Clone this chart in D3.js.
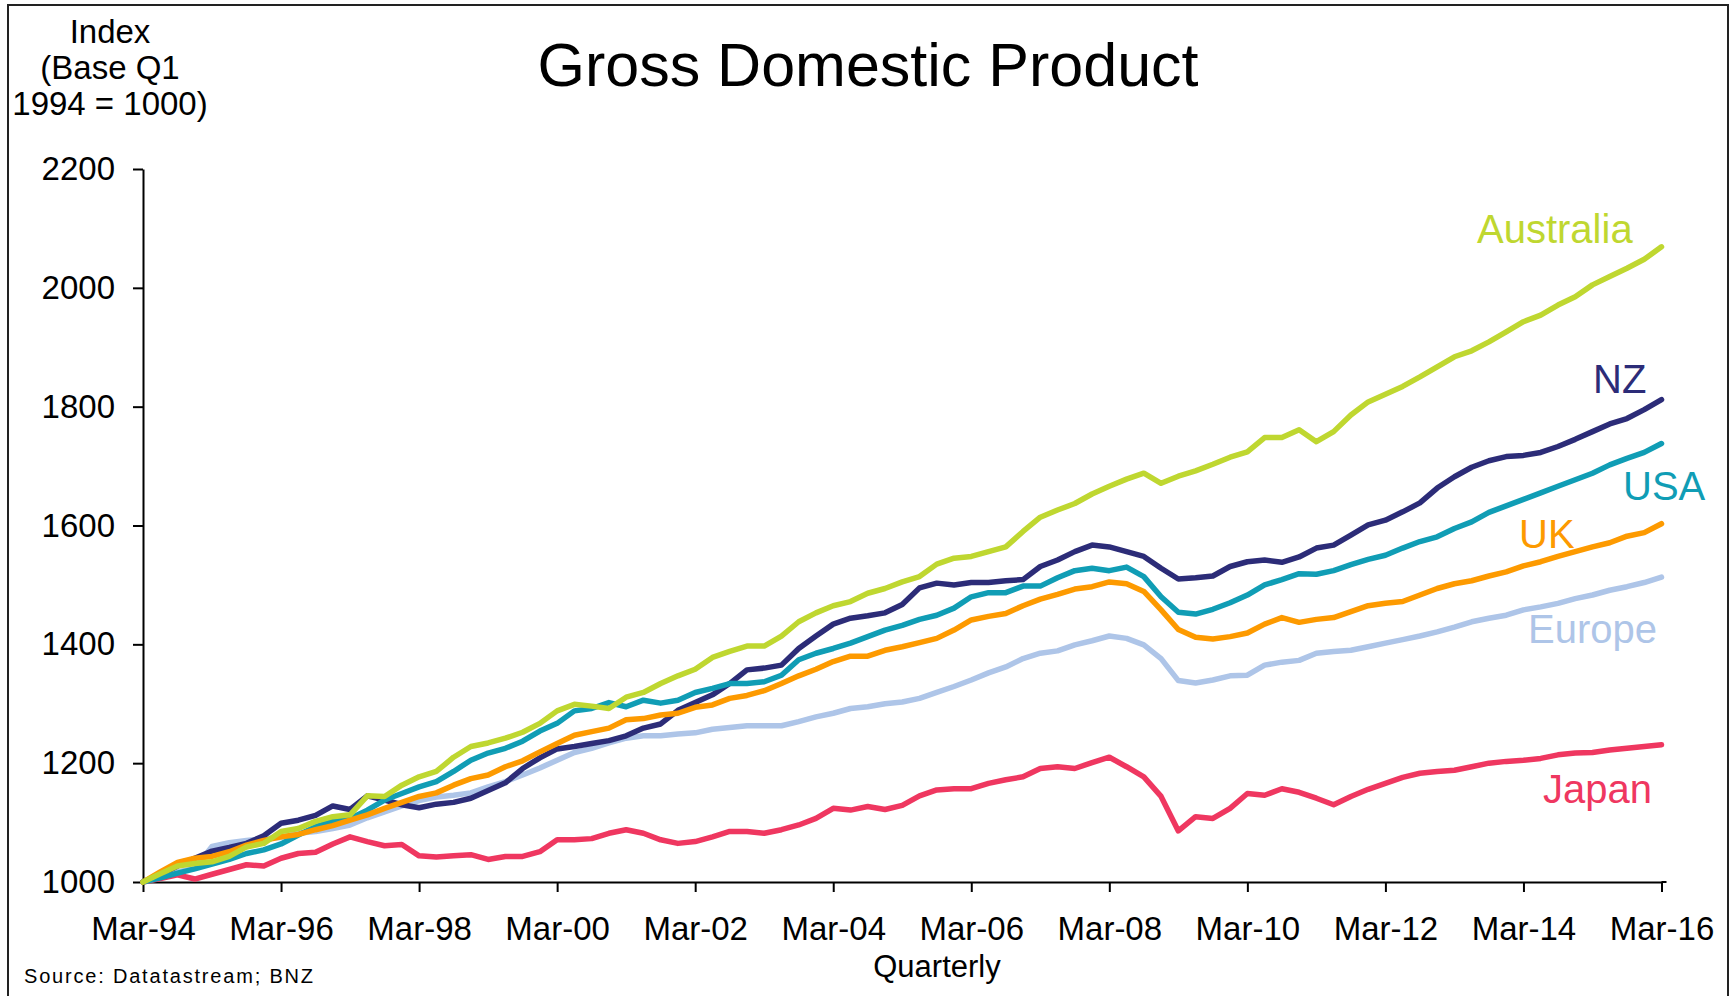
<!DOCTYPE html>
<html>
<head>
<meta charset="utf-8">
<script src="https://cdn.jsdelivr.net/npm/d3@7"></script>
<style>
  body { margin: 0; background: #fff; }
  svg { display: block; font-family: "Liberation Sans", Arial, sans-serif; }
  .axis path, .axis line { stroke: #000; stroke-width: 2; }
  .axis text { fill: #000; }
</style>
</head>
<body>
<div id="chart"></div>
<script>
// Quarterly index, Q1 1994 = 1000 (Mar-94 .. Mar-16)
var tickLabels = ["Mar-94", "Mar-96", "Mar-98", "Mar-00", "Mar-02", "Mar-04",
                  "Mar-06", "Mar-08", "Mar-10", "Mar-12", "Mar-14", "Mar-16"];
var yTicks = [1000, 1200, 1400, 1600, 1800, 2000, 2200];

var australia = [1000, 1014, 1027, 1031, 1034, 1043, 1059, 1065, 1085, 1090, 1102, 1110, 1113, 1145, 1144, 1163,
  1177, 1186, 1210, 1228, 1234, 1242, 1252, 1267, 1288, 1299, 1296, 1292, 1311, 1319, 1334, 1347,
  1358, 1378, 1388, 1397, 1397, 1414, 1438, 1453, 1465, 1472, 1486, 1494, 1505, 1514, 1535, 1545,
  1548, 1556, 1564, 1590, 1614, 1626, 1637, 1653, 1666, 1678, 1688, 1671, 1683, 1692, 1703, 1715,
  1724, 1748, 1748, 1761, 1741, 1758, 1786, 1808, 1821, 1834, 1850, 1867, 1884, 1894, 1909, 1926,
  1943, 1954, 1971, 1985, 2005, 2019, 2033, 2048, 2069];
var nz = [1000, 1012, 1027, 1040, 1052, 1058, 1065, 1078, 1099, 1104, 1112, 1128, 1122, 1145, 1138, 1130,
  1125, 1131, 1134, 1141, 1154, 1167, 1191, 1209, 1224, 1228, 1233, 1238, 1246, 1259, 1266, 1289,
  1302, 1315, 1334, 1357, 1360, 1365, 1393, 1414, 1434, 1444, 1448, 1453, 1467, 1495, 1503, 1500,
  1504, 1504, 1507, 1509, 1531, 1542, 1556, 1567, 1564, 1556, 1548, 1528, 1510, 1512, 1515, 1531,
  1539, 1542, 1538, 1547, 1562, 1567, 1584, 1601, 1609, 1623, 1638, 1663, 1682, 1698, 1709, 1716,
  1718, 1723, 1733, 1745, 1758, 1771, 1780, 1795, 1812];
var usa = [1000, 1007, 1015, 1022, 1030, 1038, 1048, 1054, 1064, 1079, 1093, 1102, 1107, 1121, 1138, 1149,
  1160, 1169, 1186, 1205, 1217, 1225, 1237, 1254, 1267, 1288, 1292, 1302, 1295, 1306, 1301, 1306,
  1319, 1326, 1334, 1334, 1337, 1348, 1374, 1385, 1393, 1402, 1413, 1424, 1432, 1442, 1449, 1461,
  1480, 1487, 1487, 1498, 1498, 1512, 1524, 1528, 1524, 1530, 1514, 1480, 1454, 1451, 1459, 1470,
  1483, 1500, 1509, 1519, 1518, 1524, 1534, 1543, 1550, 1562, 1573, 1581, 1595, 1606, 1622, 1633,
  1644, 1655, 1666, 1677, 1688, 1702, 1713, 1723, 1738];
var uk = [1000, 1017, 1033, 1040, 1043, 1051, 1062, 1070, 1076, 1080, 1088, 1095, 1104, 1113, 1124, 1134,
  1144, 1150, 1163, 1174, 1180, 1194, 1204, 1219, 1233, 1247, 1253, 1259, 1273, 1275, 1281, 1284,
  1294, 1298, 1309, 1314, 1322, 1334, 1347, 1358, 1371, 1380, 1380, 1390, 1396, 1403, 1410, 1424,
  1441, 1447, 1452, 1465, 1476, 1484, 1493, 1497, 1505, 1502, 1489, 1458, 1425, 1412, 1409, 1413,
  1419, 1434, 1445, 1437, 1442, 1445, 1455, 1465, 1469, 1472, 1483, 1494, 1502, 1507, 1515, 1522,
  1532, 1539, 1548, 1556, 1564, 1571, 1582, 1588, 1603];
var europe = [1000, 1010, 1017, 1023, 1060, 1066, 1070, 1073, 1075, 1082, 1085, 1090, 1096, 1108, 1118, 1128,
  1137, 1143, 1146, 1150, 1160, 1169, 1180, 1192, 1205, 1218, 1225, 1234, 1242, 1246, 1246, 1249,
  1251, 1257, 1260, 1263, 1263, 1263, 1270, 1278, 1284, 1292, 1295, 1300, 1303, 1309, 1319, 1329,
  1340, 1352, 1362, 1376, 1385, 1389, 1399, 1406, 1414, 1410, 1399, 1376, 1339, 1335, 1340, 1347,
  1348, 1365, 1370, 1373, 1385, 1388, 1390, 1396, 1402, 1408, 1414, 1421, 1429, 1438, 1444, 1449,
  1458, 1463, 1469, 1477, 1483, 1491, 1497, 1504, 1513];
var japan = [1000, 1006, 1012, 1005, 1013, 1021, 1029, 1027, 1040, 1048, 1050, 1064, 1076, 1068, 1061, 1063,
  1044, 1042, 1044, 1046, 1038, 1043, 1043, 1051, 1071, 1071, 1073, 1082, 1088, 1082, 1071, 1065,
  1068, 1076, 1085, 1085, 1082, 1088, 1096, 1107, 1124, 1121, 1127, 1122, 1129, 1145, 1155, 1157,
  1157, 1166, 1172, 1177, 1191, 1194, 1191, 1201, 1210, 1194, 1177, 1144, 1086, 1110, 1107, 1124,
  1149, 1146, 1157, 1151, 1141, 1130, 1144, 1156, 1166, 1176, 1183, 1186, 1188, 1194, 1200, 1203,
  1205, 1208, 1214, 1217, 1218, 1222, 1225, 1228, 1231];

// draw order: back to front
var series = [
  { name: "Japan",     values: japan,     color: "#ef3760" },
  { name: "Europe",    values: europe,    color: "#aec5e8" },
  { name: "NZ",        values: nz,        color: "#2c2c78" },
  { name: "USA",       values: usa,       color: "#109db5" },
  { name: "UK",        values: uk,        color: "#fd9a00" },
  { name: "Australia", values: australia, color: "#bfd730" }
];

// label anchor points (page px)
var labelPos = {
  "Australia": [1477, 243],
  "NZ":        [1593, 393],
  "USA":       [1623, 500],
  "UK":        [1519, 548],
  "Europe":    [1528, 643],
  "Japan":     [1543, 803]
};

var W = 1732, H = 996;
var plotLeft = 143, plotRight = 1661.5, plotTop = 169, plotBottom = 882;

var svg = d3.select("#chart").append("svg")
    .attr("width", W)
    .attr("height", H);

//Frame
svg.append("rect")
    .attr("x", 8).attr("y", 5)
    .attr("width", 1720).attr("height", 1000)
    .attr("fill", "none")
    .attr("stroke", "#222")
    .attr("stroke-width", 2);

var nQ = australia.length;
var x = d3.scaleLinear().domain([0, nQ - 1]).range([plotLeft, plotRight]);
var y = d3.scaleLinear().domain([1000, 2200]).range([plotBottom, plotTop]);

//Title
svg.append("text")
    .attr("x", 868).attr("y", 86)
    .attr("text-anchor", "middle")
    .style("font-size", "61px")
    .text("Gross Domestic Product");

//Y axis title
var yTitle = ["Index", "(Base Q1", "1994 = 1000)"];
svg.selectAll("text.ytitle")
  .data(yTitle)
  .enter().append("text")
    .attr("class", "ytitle")
    .attr("x", 110)
    .attr("y", function(d, i) { return 43 + i * 36; })
    .attr("text-anchor", "middle")
    .style("font-size", "33px")
    .text(function(d) { return d; });

//Y axis
var yAxis = svg.append("g")
    .attr("class", "axis y")
    .attr("transform", "translate(" + plotLeft + ",0)")
    .call(d3.axisLeft(y).tickValues(yTicks).tickSize(10).tickSizeOuter(0).tickPadding(18).tickFormat(d3.format("d")));
yAxis.selectAll("text").style("font-size", "33px");

//X axis
var xTickIdx = tickLabels.map(function(d, i) { return i * 8; });
var xAxis = svg.append("g")
    .attr("class", "axis x")
    .attr("transform", "translate(0," + plotBottom + ")")
    .call(d3.axisBottom(x).tickValues(xTickIdx).tickSize(10).tickSizeOuter(0).tickPadding(25)
      .tickFormat(function(d, i) { return tickLabels[i]; }));
xAxis.selectAll("text").style("font-size", "33px");
svg.selectAll(".axis").attr("font-family", null);

//x axis line runs a little past the last tick
xAxis.append("line")
    .attr("x1", plotRight).attr("x2", plotRight + 5)
    .attr("y1", 0).attr("y2", 0);

//Axis footers
svg.append("text")
    .attr("x", 937).attr("y", 977)
    .attr("text-anchor", "middle")
    .style("font-size", "31px")
    .text("Quarterly");

svg.append("text")
    .attr("x", 24).attr("y", 983)
    .attr("textLength", 289)
    .attr("lengthAdjust", "spacing")
    .style("font-size", "20px")
    .text("Source: Datatastream; BNZ");

//Lines
var lineGen = d3.line()
    .x(function(d, i) { return x(i); })
    .y(function(d) { return y(d); });

svg.selectAll("path.line")
  .data(series)
  .enter().append("path")
    .attr("class", "line")
    .attr("fill", "none")
    .attr("stroke", function(d) { return d.color; })
    .attr("stroke-width", 5.5)
    .attr("stroke-linejoin", "round")
    .attr("stroke-linecap", "round")
    .attr("d", function(d) { return lineGen(d.values); });

//Series labels
svg.selectAll("text.label")
  .data(series)
  .enter().append("text")
    .attr("class", "label")
    .attr("x", function(d) { return labelPos[d.name][0]; })
    .attr("y", function(d) { return labelPos[d.name][1]; })
    .attr("fill", function(d) { return d.color; })
    .style("font-size", "40px")
    .text(function(d) { return d.name; });
</script>
</body>
</html>
